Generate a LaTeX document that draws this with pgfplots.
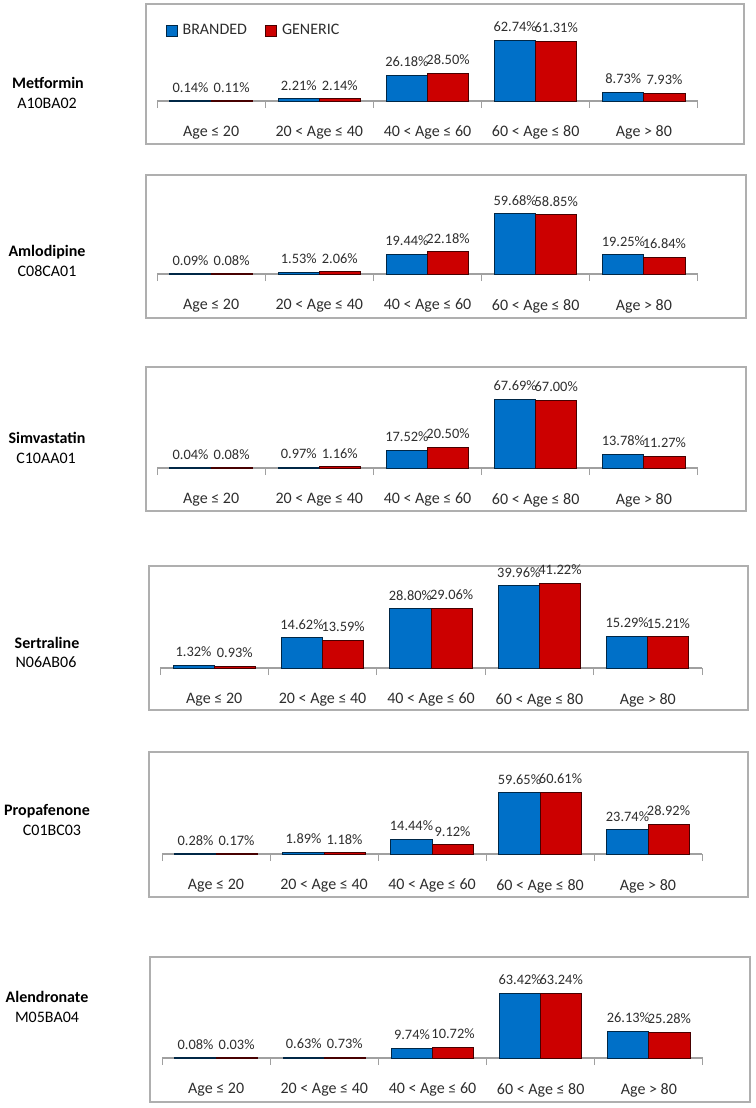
\documentclass[border=0pt]{standalone}
\usepackage{pgfplots}
\pgfplotsset{compat=1.18}
\usepackage{fontspec}
\setmainfont{Carlito}
\definecolor{bblue}{RGB}{0,112,200}
\definecolor{gred}{RGB}{204,0,0}
\definecolor{framec}{RGB}{175,175,175}
\definecolor{axisc}{RGB}{160,160,160}
\definecolor{txt}{RGB}{45,45,45}

\pgfplotsset{
  panel/.style={
    scale only axis,
    anchor=south west,
    enlargelimits=false,
    axis x line*=bottom,
    axis y line=none,
    x axis line style={draw=axisc,line width=0.6pt,-},
    xmin=-0.5, xmax=4.5, ymin=0,
    xtick={0,1,2,3,4},
    xticklabels={Age ≤ 20, 20 < Age ≤ 40, 40 < Age ≤ 60, 60 < Age ≤ 80, Age > 80},
    major tick length=0pt,
    extra x ticks={-0.5,0.5,1.5,2.5,3.5,4.5},
    extra x tick labels={},
    extra x tick style={major tick length=3.5pt, tick align=outside, tick style={draw=axisc,line width=0.5pt}},
    xticklabel style={font=\fontsize{8}{9}\selectfont, text=txt, yshift=-9pt},
    ybar=0pt, bar width=0.38,
    clip=false,
    nodes near coords={\pgfmathprintnumber[fixed,fixed zerofill,precision=2,assume math mode=true]{\pgfplotspointmeta}\%},
    nodes near coords style={font=\fontsize{7.2}{8}\selectfont, text=txt, inner sep=0.5pt, yshift=3.5pt},
  },
  br/.style={fill=bblue, draw=bblue!35!black, line width=0.5pt, bar shift=-0.19},
  gn/.style={fill=gred, draw=gred!35!black, line width=0.5pt, bar shift=0.19},
}

\begin{document}
\begin{tikzpicture}
\path[use as bounding box] (0pt,0pt) rectangle (377.5pt,-554pt);

% frames
\draw[framec, line width=0.6pt] (73pt,-2pt) rectangle (372pt,-72pt);
\draw[framec, line width=0.6pt] (73pt,-87.5pt) rectangle (373pt,-159pt);
\draw[framec, line width=0.6pt] (73pt,-183.5pt) rectangle (373pt,-255.5pt);
\draw[framec, line width=0.6pt] (74.5pt,-283pt) rectangle (374pt,-355pt);
\draw[framec, line width=0.6pt] (74.5pt,-376pt) rectangle (374pt,-448.5pt);
\draw[framec, line width=0.6pt] (75pt,-478.5pt) rectangle (375pt,-551pt);

% left labels
\begin{scope}[every node/.style={font=\fontsize{8}{9}\selectfont, inner sep=0pt}]
\node[font=\fontsize{8}{9}\selectfont\bfseries] at (24pt,-41.5pt) {Metformin};
\node at (23.5pt,-51.5pt) {A10BA02};
\node[font=\fontsize{8}{9}\selectfont\bfseries] at (23.5pt,-126pt) {Amlodipine};
\node at (23.5pt,-135.5pt) {C08CA01};
\node[font=\fontsize{8}{9}\selectfont\bfseries] at (23.5pt,-219pt) {Simvastatin};
\node at (23pt,-229pt) {C10AA01};
\node[font=\fontsize{8}{9}\selectfont\bfseries] at (23.5pt,-321.5pt) {Sertraline};
\node at (23pt,-331pt) {N06AB06};
\node[font=\fontsize{8}{9}\selectfont\bfseries] at (23.5pt,-405.5pt) {Propafenone};
\node at (26pt,-415pt) {C01BC03};
\node[font=\fontsize{8}{9}\selectfont\bfseries] at (23.5pt,-498.5pt) {Alendronate};
\node at (23.5pt,-508.5pt) {M05BA04};
\end{scope}

% Metformin
\begin{axis}[panel, at={(78.5pt,-50.5pt)}, width=270.5pt, height=34pt, ymax=70,
  legend style={at={(axis description cs:0.004,1.03)}, anchor=west, draw=none, fill=none,
    legend columns=2, font=\fontsize{8}{9}\selectfont, text=txt,
    /tikz/every even column/.append style={column sep=7pt},
    /tikz/every odd column/.append style={column sep=0.5pt}},
  legend image code/.code={\draw[#1] (0pt,-2.75pt) rectangle (5.5pt,2.75pt);}]
\addplot[br] coordinates {(0,0.14) (1,2.21) (2,26.18) (3,62.74) (4,8.73)};
\addplot[gn] coordinates {(0,0.11) (1,2.14) (2,28.50) (3,61.31) (4,7.93)};
\legend{BRANDED, GENERIC}
\end{axis}

% Amlodipine
\begin{axis}[panel, at={(78.5pt,-137pt)}, width=270.5pt, height=35.2pt, ymax=70]
\addplot[br] coordinates {(0,0.09) (1,1.53) (2,19.44) (3,59.68) (4,19.25)};
\addplot[gn] coordinates {(0,0.08) (1,2.06) (2,22.18) (3,58.85) (4,16.84)};
\end{axis}

% Simvastatin
\begin{axis}[panel, at={(78.5pt,-234pt)}, width=270.5pt, height=40.5pt, ymax=80]
\addplot[br] coordinates {(0,0.04) (1,0.97) (2,17.52) (3,67.69) (4,13.78)};
\addplot[gn] coordinates {(0,0.08) (1,1.16) (2,20.50) (3,67.00) (4,11.27)};
\end{axis}

% Sertraline
\begin{axis}[panel, at={(80pt,-334pt)}, width=271pt, height=46.35pt, ymax=45]
\addplot[br] coordinates {(0,1.32) (1,14.62) (2,28.80) (3,39.96) (4,15.29)};
\addplot[gn] coordinates {(0,0.93) (1,13.59) (2,29.06) (3,41.22) (4,15.21)};
\end{axis}

% Propafenone
\begin{axis}[panel, at={(81pt,-427pt)}, width=270pt, height=35.8pt, ymax=70]
\addplot[br] coordinates {(0,0.28) (1,1.89) (2,14.44) (3,59.65) (4,23.74)};
\addplot[gn] coordinates {(0,0.17) (1,1.18) (2,9.12) (3,60.61) (4,28.92)};
\end{axis}

% Alendronate
\begin{axis}[panel, at={(81pt,-529pt)}, width=270.5pt, height=35.85pt, ymax=70]
\addplot[br] coordinates {(0,0.08) (1,0.63) (2,9.74) (3,63.42) (4,26.13)};
\addplot[gn] coordinates {(0,0.03) (1,0.73) (2,10.72) (3,63.24) (4,25.28)};
\end{axis}
\end{tikzpicture}
\end{document}
